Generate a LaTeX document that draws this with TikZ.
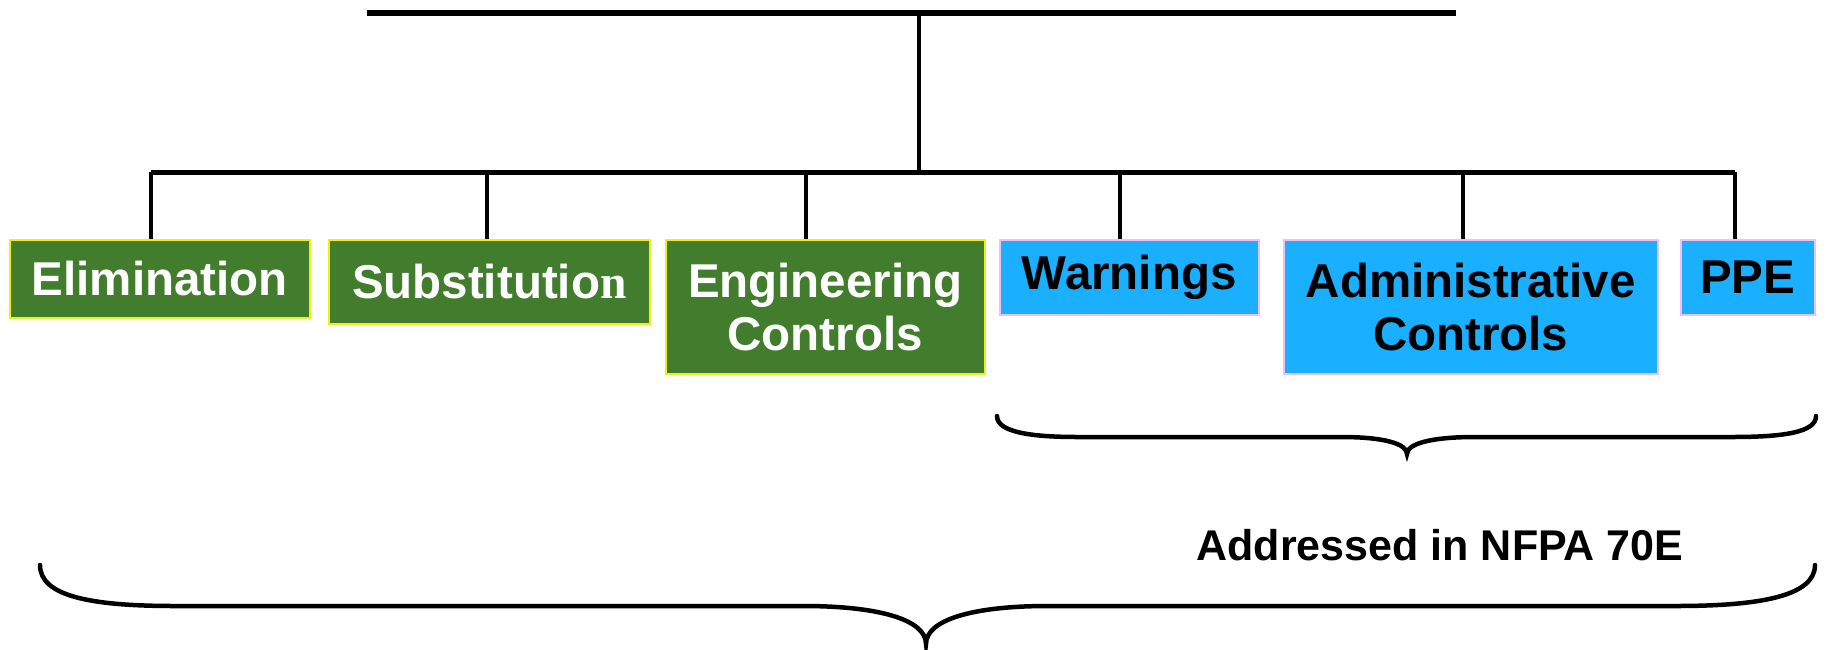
\documentclass[tikz,border=0pt]{standalone}
\usepackage{fontspec}
\setmainfont{Liberation Sans}
\newfontfamily\serifn{Liberation Serif}
\definecolor{boxgreen}{RGB}{65,125,44}
\definecolor{boxblue}{RGB}{27,175,255}
\definecolor{greenedge}{RGB}{238,238,30}
\definecolor{blueedge}{RGB}{240,190,240}
\begin{document}
\begin{tikzpicture}[x=1pt,y=-1pt,
  basebox/.style={line width=1.5pt, inner sep=0pt, anchor=north west, align=center,
    font=\bfseries\fontsize{47.5}{53}\selectfont},
  greenbox/.style={basebox, draw=greenedge, fill=boxgreen, text=white},
  bluebox/.style={basebox, draw=blueedge, fill=boxblue, text=black},
  topline/.style={line width=5.5pt},
  busline/.style={line width=5pt},
  dropline/.style={line width=4pt},
  bracestyle/.style={line width=4.5pt, line cap=round},
  notetext/.style={font=\bfseries\fontsize{43}{48}\selectfont}
]
\useasboundingbox (0,0) rectangle (1826,649);

% boxes
\node[greenbox, minimum width=300pt, minimum height=78pt] (elim) at (9,239) {Elimination};
\node[greenbox, minimum width=321pt, minimum height=84pt] (subst) at (328,239) {Substitutio{\serifn n}};
\node[greenbox, minimum width=319pt, minimum height=134pt] (eng) at (665,239) {Engineering\\Controls};
\node[bluebox, minimum width=259pt, minimum height=75pt] (warn) at (999,239) {Warnings};
\node[bluebox, minimum width=374pt, minimum height=134pt] (admin) at (1283,239) {Administrative\\Controls};
\node[bluebox, minimum width=134pt, minimum height=75pt] (ppe) at (1680,239) {PPE};

% tree lines
\coordinate (topL) at (367,13);
\coordinate (topR) at (1456,13);
\coordinate (topM) at (919,13);
\coordinate (busM) at (919,172);
\coordinate (d1) at (151,172);
\coordinate (d2) at (487,172);
\coordinate (d3) at (806,172);
\coordinate (d4) at (1120,172);
\coordinate (d5) at (1463,172);
\coordinate (d6) at (1735,172);

\draw[topline] (topL) -- (topR);
\draw[dropline] (topM) -- (busM);
\draw[busline] (d1) -- (d6);
\draw[dropline] (d1) -- (d1 |- elim.north);
\draw[dropline] (d2) -- (d2 |- subst.north);
\draw[dropline] (d3) -- (d3 |- eng.north);
\draw[dropline] (d4) -- (d4 |- warn.north);
\draw[dropline] (d5) -- (d5 |- admin.north);
\draw[dropline] (d6) -- (d6 |- ppe.north);

% small brace
\coordinate (sbL) at (997,416);
\coordinate (sbR) at (1816,416);
\coordinate (sbT) at (1407,454);
\draw[bracestyle] (sbL) .. controls (997,432) and (1030,437) .. (1078,437)
  -- (1341,437) .. controls (1385,437) and (1407,444) .. (sbT)
  .. controls (1407,444) and (1430,437) .. (1475,437)
  -- (1732,437) .. controls (1785,437) and (1816,432) .. (sbR);

\node[notetext] (note) at (1440,545) {Addressed in NFPA 70E};

% big brace
\coordinate (bbL) at (40,565);
\coordinate (bbR) at (1815,565);
\coordinate (bbT) at (926,644);
\draw[bracestyle] (bbL) .. controls (40,596) and (90,606) .. (175,606)
  -- (803,606) .. controls (880,606) and (926,620) .. (bbT)
  .. controls (926,620) and (972,606) .. (1048,606)
  -- (1676,606) .. controls (1760,606) and (1815,596) .. (bbR);
\end{tikzpicture}
\end{document}
